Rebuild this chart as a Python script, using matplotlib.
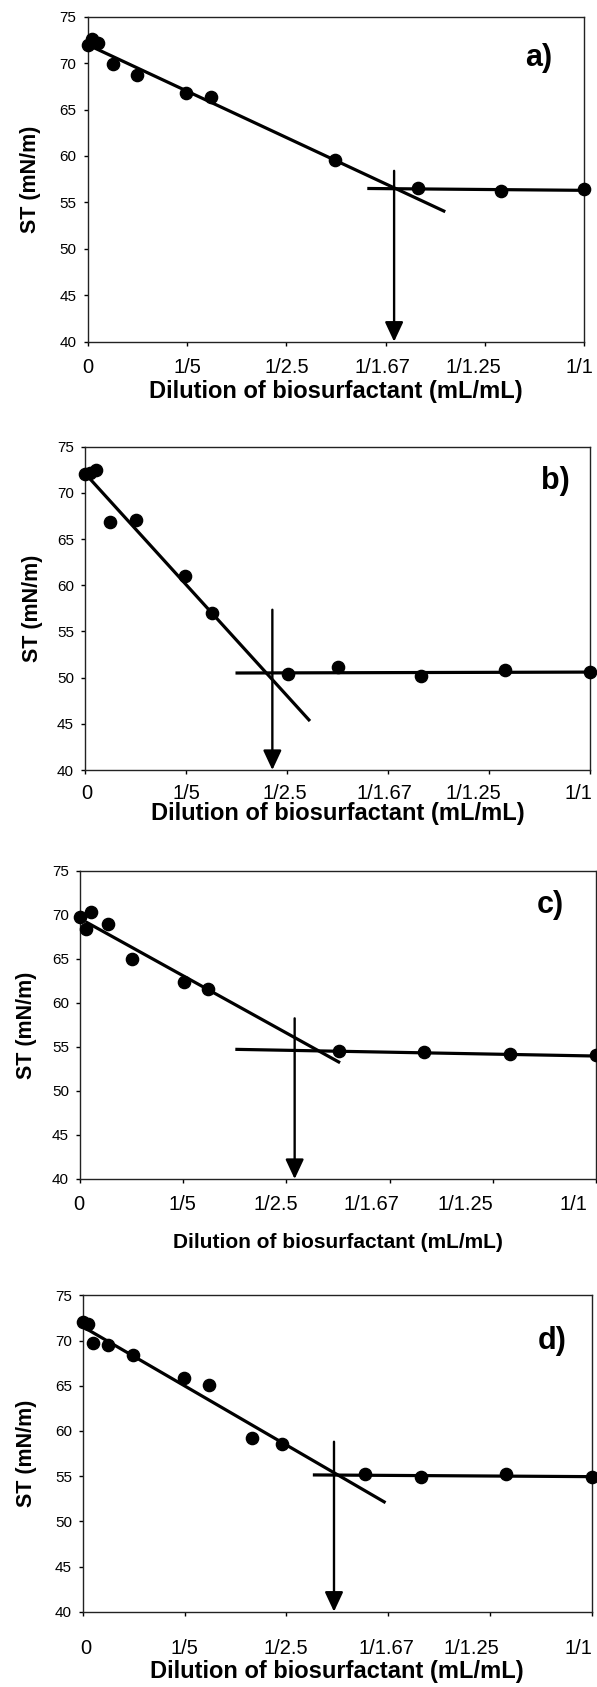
import matplotlib
matplotlib.use("Agg")
import matplotlib.pyplot as plt
from matplotlib import font_manager
from matplotlib.transforms import ScaledTranslation

# ---------------- data ----------------
xtick_vals = [0, 0.2, 0.4, 0.6, 0.8, 1.0]
xtick_labels = ["0", "1/5", "1/2.5", "1/1.67", "1/1.25", "1/1"]
ytick_vals = [40, 45, 50, 55, 60, 65, 70, 75]
panel_names = ["a)", "b)", "c)", "d)"]
x_label = "Dilution of biosurfactant (mL/mL)"
y_label = "ST (mN/m)"

a_x = [0, 0.009, 0.021, 0.051, 0.099, 0.197, 0.249, 0.498, 0.666, 0.832, 1.0]
a_y = [72.0, 72.6, 72.2, 69.9, 68.7, 66.8, 66.4, 59.6, 56.6, 56.2, 56.4]
a_fit_x = [0.007, 0.72]
a_fit_y = [71.8, 54.0]
a_plat_x = [0.563, 1.0]
a_plat_y = [56.5, 56.3]
a_cmc_x = 0.617
a_cmc_top = 58.4

b_x = [0, 0.01, 0.021, 0.049, 0.10, 0.199, 0.251, 0.401, 0.50, 0.665, 0.832, 1.0]
b_y = [72.05, 72.1, 72.5, 66.8, 67.1, 61.0, 57.0, 50.4, 51.2, 50.2, 50.8, 50.65]
b_fit_x = [0.006, 0.4455]
b_fit_y = [71.75, 45.3]
b_plat_x = [0.298, 1.0]
b_plat_y = [50.5, 50.6]
b_cmc_x = 0.371
b_cmc_top = 57.35

c_x = [0, 0.011, 0.021, 0.054, 0.10, 0.202, 0.249, 0.502, 0.667, 0.834, 1.0]
c_y = [69.8, 68.4, 70.3, 68.9, 64.95, 62.4, 61.6, 54.57, 54.38, 54.15, 54.04]
c_fit_x = [0.011, 0.504]
c_fit_y = [69.2, 53.2]
c_plat_x = [0.301, 1.0]
c_plat_y = [54.72, 53.96]
c_cmc_x = 0.416
c_cmc_top = 58.24

d_x = [0, 0.0105, 0.019, 0.049, 0.099, 0.198, 0.248, 0.333, 0.392, 0.554, 0.664, 0.831, 1.0]
d_y = [72.0, 71.85, 69.7, 69.45, 68.4, 65.8, 65.1, 59.2, 58.6, 55.2, 54.95, 55.2, 54.95]
d_fit_x = [0.005, 0.595]
d_fit_y = [71.35, 52.06]
d_plat_x = [0.452, 1.0]
d_plat_y = [55.13, 54.94]
d_cmc_x = 0.4936
d_cmc_top = 58.8

# ---------------- layout (pixels) ----------------
W, H, DPI = 597, 1687, 100
# left, right, top, bottom of each axes box
boxes = [(87.7, 584.3, 16.7, 341.7),
         (85.0, 590.0, 446.7, 770.0),
         (80.0, 596.0, 870.7, 1179.0),
         (83.0, 591.5, 1295.3, 1611.7)]
xtick_pad = [9.0, 7.0, 8.6, 17.0]
label_shift = [[0, 0, 0, -3, -12, -5],
               [2, 0, -2, -4, -16, -12],
               [-1, -1, -11, -18, -27, -23],
               [3, 0, -1, -2, -18, -13]]
xlabel_center_px = [391.7, 813.3, 1243.0, 1671.7]
xlabel_size = [17, 17, 15, 17]
ylabel_x_px = [30.5, 32.4, 26.7, 26.7]
name_pos = [(0.908, 70.5), (0.932, 71.3), (0.911, 71.1), (0.923, 69.9)]

names_avail = {f.name for f in font_manager.fontManager.ttflist}
base = "Liberation Sans" if "Liberation Sans" in names_avail else "DejaVu Sans"
narrow = "Liberation Sans Narrow" if "Liberation Sans Narrow" in names_avail else base
plt.rcParams["font.family"] = [base, "DejaVu Sans"]

fig = plt.figure(figsize=(W / DPI, H / DPI), dpi=DPI)

panels = [
    (a_x, a_y, a_fit_x, a_fit_y, a_plat_x, a_plat_y, a_cmc_x, a_cmc_top),
    (b_x, b_y, b_fit_x, b_fit_y, b_plat_x, b_plat_y, b_cmc_x, b_cmc_top),
    (c_x, c_y, c_fit_x, c_fit_y, c_plat_x, c_plat_y, c_cmc_x, c_cmc_top),
    (d_x, d_y, d_fit_x, d_fit_y, d_plat_x, d_plat_y, d_cmc_x, d_cmc_top),
]

for i, (px, py, fx, fy, plx, ply, cx, ctop) in enumerate(panels):
    l, r, t, b = boxes[i]
    ax = fig.add_axes([l / W, 1 - b / H, (r - l) / W, (b - t) / H])
    ax.set_xlim(0, 1)
    ax.set_ylim(40, 75)
    for s in ax.spines.values():
        s.set_linewidth(1.0)
        s.set_color("#222222")

    ax.plot(fx, fy, color="black", lw=2.3, solid_capstyle="butt", zorder=3)
    ax.plot(plx, ply, color="black", lw=2.3, solid_capstyle="butt", zorder=3)
    ax.plot(px, py, "o", color="black", ms=8.8, clip_on=False, zorder=4)
    ax.annotate("", xy=(cx, 40), xytext=(cx, ctop),
                arrowprops=dict(arrowstyle="-|>,head_length=0.6,head_width=0.28",
                                mutation_scale=20, color="black", lw=1.7,
                                shrinkA=0, shrinkB=0),
                annotation_clip=False, zorder=3)

    ax.set_xticks(xtick_vals)
    ax.set_xticklabels(xtick_labels, fontsize=14.5)
    ax.set_yticks(ytick_vals)
    ax.set_yticklabels([str(v) for v in ytick_vals], fontsize=11)
    ax.tick_params(axis="x", direction="out", length=3, width=1, pad=xtick_pad[i])
    ax.tick_params(axis="y", direction="out", length=3, width=1, pad=5)
    for lab, dx in zip(ax.get_xticklabels(), label_shift[i]):
        lab.set_transform(lab.get_transform() + ScaledTranslation(dx / DPI, 0, fig.dpi_scale_trans))

    ax.text(name_pos[i][0], name_pos[i][1], panel_names[i], fontsize=22,
            fontweight="bold", ha="center", va="center")

    xl_font = narrow if i == 2 else base
    ax.set_xlabel(x_label, fontsize=xlabel_size[i], fontweight="bold", va="center",
                  family=[xl_font, "DejaVu Sans"])
    ax.xaxis.set_label_coords(0.5, -(xlabel_center_px[i] - b) / (b - t))
    ax.set_ylabel(y_label, fontsize=15.5, fontweight="bold", va="center")
    ax.yaxis.set_label_coords((ylabel_x_px[i] - l) / (r - l), 0.5)

fig.savefig("out.png", dpi=DPI)
